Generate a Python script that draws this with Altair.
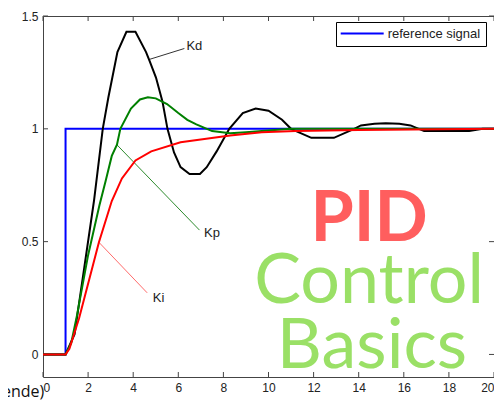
import altair as alt
import pandas as pd

# ---------------- data ----------------
X_TICKS = list(range(0, 21, 2))
Y_TICKS = [0, 0.5, 1, 1.5]

ref_x = [0, 1, 1, 20]
ref_y = [0, 0, 1, 1]

kd_x = [0, 1, 1.4, 1.83, 2.26, 2.65, 2.9, 3.3, 3.7, 4.1, 4.57, 4.73, 5.01, 5.3, 5.52,
        5.81, 6.1, 6.5, 6.96, 7.26, 7.7, 8.26, 8.86, 9.43, 10.0, 10.6, 11.0, 11.9,
        12.9, 13.8, 14.1, 14.7, 15.2, 15.8, 16.3, 16.9, 18.9, 19.5, 20]
kd_y = [0, 0, 0.09, 0.385, 0.68, 1.0, 1.14, 1.34, 1.43, 1.43, 1.34, 1.30, 1.227, 1.12, 1.0,
        0.895, 0.83, 0.80, 0.80, 0.83, 0.90, 1.0, 1.07, 1.09, 1.08, 1.04, 1.0, 0.96,
        0.96, 1.0, 1.015, 1.022, 1.025, 1.022, 1.015, 0.99, 0.99, 1.0, 1.0]

kp_x = [0, 1, 1.25, 1.5, 2.0, 2.5, 2.78, 3.05, 3.28, 3.43, 3.9, 4.3, 4.65, 5.0, 5.5,
        6.0, 6.4, 6.8, 7.5, 8.3, 9.0, 9.7, 11.0, 20]
kp_y = [0, 0, 0.05, 0.17, 0.44, 0.66, 0.77, 0.88, 0.93, 1.0, 1.09, 1.13, 1.14, 1.135, 1.11,
        1.07, 1.04, 1.02, 0.99, 0.98, 0.985, 0.99, 1.0, 1.0]

ki_x = [0, 1, 1.17, 1.6, 2.2, 2.48, 3.05, 3.5, 4.1, 4.8, 6.1, 8.3, 9.7, 11.2, 14, 20]
ki_y = [0, 0, 0.025, 0.16, 0.39, 0.497, 0.68, 0.78, 0.86, 0.90, 0.94, 0.97, 0.985, 0.99, 0.995, 1.0]

ann_labels = ["Kd", "Kp", "Ki"]
ann_from_x = [4.73, 3.28, 2.48]
ann_from_y = [1.308, 0.929, 0.497]
ann_to_x = [6.27, 6.94, 4.62]
ann_to_y = [1.356, 0.551, 0.273]
ann_text_x = [6.36, 7.14, 4.87]
ann_text_y = [1.367, 0.538, 0.251]
ann_colors = ["#333333", "#2e8b2e", "#ff6b6b"]

big_texts = ["PID", "Control", "Basics"]
big_x = [14.46, 14.46, 14.59]
big_y = [0.504, 0.226, -0.058]

legend_label = "reference signal"
caption = "ende)"

# ---------------- chart ----------------
W, H = 451, 361
xscale = alt.Scale(domain=[0, 20], nice=False, zero=False)
yscale = alt.Scale(domain=[-0.1, 1.5], nice=False, zero=False)
AX_COMMON = dict(title=None, grid=False, domain=False, ticks=False, labelFontSize=12,
                 labelFont="Liberation Sans", labelColor="#222222")


def X(field="t"):
    return alt.X(f"{field}:Q", scale=xscale,
                 axis=alt.Axis(values=X_TICKS, labelPadding=5, **AX_COMMON))


def Y(field="y"):
    return alt.Y(f"{field}:Q", scale=yscale,
                 axis=alt.Axis(values=Y_TICKS, labelPadding=5,
                               labelExpr="'' + datum.value", **AX_COMMON))


def series(xs, ys, name):
    return pd.DataFrame({"t": xs, "y": ys, "i": list(range(len(xs))), "name": name})


ref_df = series(ref_x, ref_y, legend_label)
ref = alt.Chart(ref_df).mark_line(strokeWidth=2).encode(
    x=X(), y=Y(), order="i:Q",
    color=alt.Color("name:N", scale=alt.Scale(domain=[legend_label], range=["#0000ff"]),
                    legend=alt.Legend(title=None, orient="none", legendX=293, legendY=6,
                                      strokeColor="black", fillColor="white", padding=5,
                                      cornerRadius=0, symbolType="M-6.14,0H6.14",
                                      symbolSize=49, symbolStrokeWidth=2,
                                      symbolOffset=14.7, labelOffset=19,
                                      labelFontSize=13, labelFont="Liberation Sans",
                                      labelColor="#222222")),
)

kd = alt.Chart(series(kd_x, kd_y, "Kd")).mark_line(color="black", strokeWidth=2).encode(
    x=X(), y=Y(), order="i:Q")
kp = alt.Chart(series(kp_x, kp_y, "Kp")).mark_line(color="#008000", strokeWidth=2).encode(
    x=X(), y=Y(), order="i:Q")
ki = alt.Chart(series(ki_x, ki_y, "Ki")).mark_line(color="#ff0000", strokeWidth=2).encode(
    x=X(), y=Y(), order="i:Q")

ann_df = pd.DataFrame({"t": ann_from_x, "y": ann_from_y, "t2": ann_to_x, "y2": ann_to_y,
                       "c": ann_colors, "label": ann_labels,
                       "tx": ann_text_x, "ty": ann_text_y})
ann_lines = alt.Chart(ann_df).mark_rule(strokeWidth=1).encode(
    x=X(), y=Y(), x2="t2:Q", y2="y2:Q", stroke=alt.Stroke("c:N", scale=None))
ann_text = alt.Chart(ann_df).mark_text(align="left", baseline="middle", fontSize=13,
                                       font="Liberation Sans", color="#222222").encode(
    x=X("tx"), y=Y("ty"), text="label:N")

big_df = pd.DataFrame({"t": big_x, "y": big_y, "label": big_texts})
pid = alt.Chart(big_df.iloc[[0]]).mark_text(align="center", baseline="alphabetic",
                                            fontSize=70, font="Lato", fontWeight="bold",
                                            color="#ff5e5e").encode(
    x=X(), y=Y(), text="label:N")
green_txt = alt.Chart(big_df.iloc[[1, 2]]).mark_text(align="center", baseline="alphabetic",
                                                   fontSize=70, font="Lato",
                                                   color="#9ae066").encode(
    x=X(), y=Y(), text="label:N")

xt_df = pd.DataFrame({"t": X_TICKS})
yt_df = pd.DataFrame({"y": Y_TICKS})
TK = 5
tick_b = alt.Chart(xt_df).mark_rule(color="#444444").encode(x=X(), y=alt.value(H), y2=alt.value(H - TK))
tick_t = alt.Chart(xt_df).mark_rule(color="#444444").encode(x=X(), y=alt.value(0), y2=alt.value(TK))
tick_l = alt.Chart(yt_df).mark_rule(color="#444444").encode(y=Y(), x=alt.value(0), x2=alt.value(TK))
tick_r = alt.Chart(yt_df).mark_rule(color="#444444").encode(y=Y(), x=alt.value(W), x2=alt.value(W - TK))

cap = alt.Chart(pd.DataFrame({"label": [caption]})).mark_text(
    align="left", baseline="alphabetic", fontSize=16, font="Open Sans", color="#111111").encode(
    x=alt.value(-41), y=alt.value(381), text="label:N")

chart = alt.layer(
    tick_b, tick_t, tick_l, tick_r,
    ann_lines, ann_text,
    ref, kd, kp, ki,
    pid, green_txt, cap,
).properties(
    width=W, height=H,
    autosize=alt.AutoSizeParams(type="none"),
    padding={"left": 35, "top": 8, "right": 0, "bottom": 30},
    background="white",
).configure_view(stroke="#444444", strokeWidth=1)

chart.save("out.html", embed_options={"renderer": "svg", "actions": False})
